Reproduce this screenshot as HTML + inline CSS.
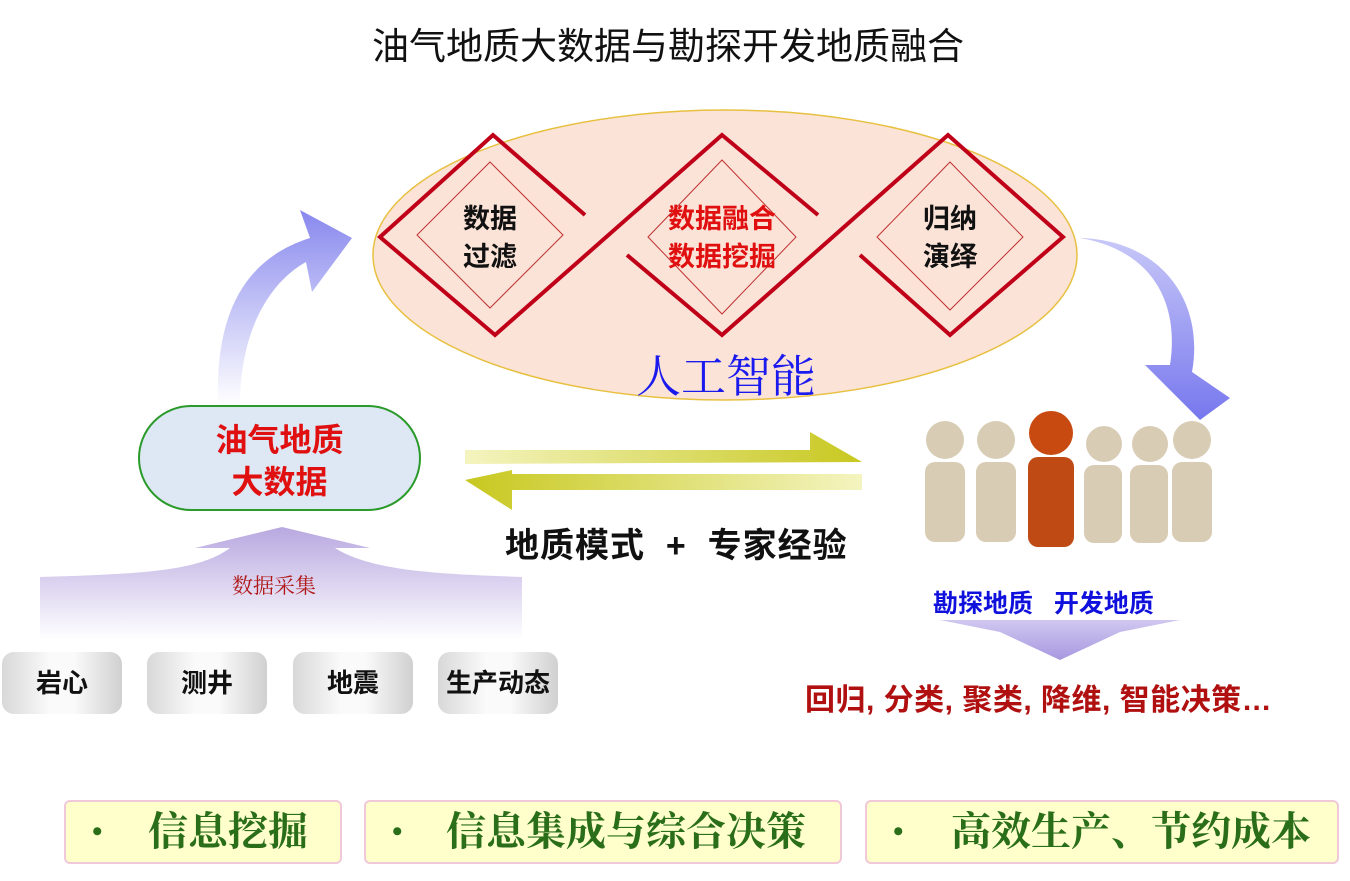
<!DOCTYPE html>
<html><head><meta charset="utf-8"><style>
body{margin:0;width:1350px;height:881px;background:#fff;overflow:hidden;position:relative;font-family:"Liberation Sans","Noto Sans CJK SC",sans-serif}
.a{position:absolute;white-space:nowrap}
.btn{position:absolute;top:652px;width:120px;height:62px;border-radius:12px;background:linear-gradient(90deg,#d8d8d8,#fafafa 40%,#fafafa 60%,#d0d0d0);font-size:26px;font-weight:bold;text-align:center;line-height:62px;color:#111}
.bx{position:absolute;top:800px;height:60px;background:#ffffcc;border:2px solid #f0c8d8;border-radius:6px;font-size:40px;font-weight:bold;color:#2a6e1a;line-height:60px;font-family:"Liberation Serif","Noto Serif CJK SC",serif;white-space:nowrap}
.bx b{position:absolute;left:26px;font-size:30px}
.bx span{position:absolute}
</style></head><body>
<div class="a" style="left:372px;top:16px;font-size:37px;color:#111">油气地质大数据与勘探开发地质融合</div>
<svg class="a" style="left:0;top:0" width="1350" height="881">
<defs>
<linearGradient id="g1" x1="0" y1="1" x2="0" y2="0"><stop offset="0" stop-color="#fff"/><stop offset="1" stop-color="#8888ee"/></linearGradient>
<linearGradient id="g2" x1="0" y1="0" x2="0" y2="1"><stop offset="0" stop-color="#c8c8f8"/><stop offset="1" stop-color="#7777ee"/></linearGradient>
<linearGradient id="g3" x1="0" y1="1" x2="0" y2="0"><stop offset="0" stop-color="#fff"/><stop offset="1" stop-color="#b8a8e0"/></linearGradient>
<linearGradient id="g4" x1="0" y1="0" x2="1" y2="0"><stop offset="0" stop-color="#f4f4c0"/><stop offset="1" stop-color="#c8c820"/></linearGradient>
<linearGradient id="g5" x1="1" y1="0" x2="0" y2="0"><stop offset="0" stop-color="#f4f4c0"/><stop offset="1" stop-color="#c8c820"/></linearGradient>
<linearGradient id="g6" x1="0" y1="0" x2="0" y2="1"><stop offset="0" stop-color="#d0c8f0"/><stop offset="1" stop-color="#a898e0"/></linearGradient>
</defs>
<ellipse cx="725" cy="255" rx="352" ry="145" fill="#fbe3d8" stroke="#e8c040" stroke-width="1.5"/>
<g fill="none" stroke="#c00018" stroke-width="4">
<polyline points="585,215 493,135 380,237 495,335 722,135 818,215"/>
<polyline points="627,255 722,335 948,135 1063,237 950,335 860,255"/>
</g>
<g fill="none" stroke="#c03030" stroke-width="1">
<polygon points="490,162 563,235 490,308 417,235"/>
<polygon points="722,160 796,237 722,314 648,237"/>
<polygon points="950,162 1023,237 950,310 877,237"/>
</g>
<path d="M218,405 C215,320 240,260 310,238 L300,210 L352,238 L312,292 L306,262 C270,282 240,330 240,405 Z" fill="url(#g1)"/>
<path d="M1080,238 C1150,250 1180,300 1170,365 L1145,365 L1200,420 L1230,398 L1192,372 C1205,300 1160,240 1080,238 Z" fill="url(#g2)"/>
<path d="M40,577 C150,574 200,570 230,548 L195,548 L282,527 L370,548 L335,548 C370,570 430,574 522,577 L522,640 L40,640 Z" fill="url(#g3)"/>
<path d="M465,450 L810,450 L810,432 L862,462 L465,464 Z" fill="url(#g4)"/>
<path d="M862,474 L512,474 L512,470 L465,480 L512,510 L512,490 L862,490 Z" fill="url(#g5)"/>
<path d="M940,620 L1180,620 L1120,632 L1060,660 L1000,632 Z" fill="url(#g6)"/>
<g fill="#d8ccb4">
<circle cx="945" cy="440" r="19"/><rect x="925" y="462" width="40" height="80" rx="10"/>
<circle cx="996" cy="440" r="19"/><rect x="976" y="462" width="40" height="80" rx="10"/>
<circle cx="1104" cy="444" r="18"/><rect x="1084" y="465" width="38" height="78" rx="10"/>
<circle cx="1150" cy="444" r="18"/><rect x="1130" y="465" width="38" height="78" rx="10"/>
<circle cx="1192" cy="440" r="19"/><rect x="1172" y="462" width="40" height="80" rx="10"/>
</g>
<circle cx="1051" cy="433" r="22" fill="#c84a10"/><rect x="1028" y="457" width="46" height="90" rx="10" fill="#c04a14"/>
</svg>
<div class="a" style="left:636px;top:340px;font-size:45px;color:#1a1aee;font-family:'Liberation Serif','Noto Serif CJK SC',serif">人工智能</div>
<div class="a" style="left:450px;top:200px;width:80px;text-align:center;font-size:27px;font-weight:bold;line-height:38px;color:#111">数据<br>过滤</div>
<div class="a" style="left:646px;top:200px;width:152px;text-align:center;font-size:27px;font-weight:bold;line-height:38px;color:#e01010">数据融合<br>数据挖掘</div>
<div class="a" style="left:910px;top:200px;width:80px;text-align:center;font-size:27px;font-weight:bold;line-height:38px;color:#111">归纳<br>演绎</div>
<div class="a" style="left:138px;top:405px;width:283px;height:106px;border:2px solid #2a9a2a;border-radius:54px;background:#dde8f4;text-align:center;font-size:32px;font-weight:bold;color:#e01010;line-height:42px;padding-top:12px;box-sizing:border-box">油气地质<br>大数据</div>
<div class="a" style="left:232px;top:570px;font-size:21px;color:#b01818;font-family:'Liberation Serif','Noto Serif CJK SC',serif">数据采集</div>
<div class="a" style="left:505px;top:518px;font-size:34px;font-weight:bold;color:#111;letter-spacing:1px">地质模式&nbsp;&nbsp;+&nbsp;&nbsp;专家经验</div>
<div class="a" style="left:933px;top:584px;font-size:25px;font-weight:bold;color:#1010dd">勘探地质&nbsp;&nbsp;&nbsp;开发地质</div>
<div class="a" style="left:805px;top:675px;font-size:30px;font-weight:bold;color:#b01010;letter-spacing:0.5px">回归, 分类, 聚类, 降维, 智能决策…</div>
<div class="btn" style="left:2px">岩心</div>
<div class="btn" style="left:147px">测井</div>
<div class="btn" style="left:293px">地震</div>
<div class="btn" style="left:438px">生产动态</div>
<div class="bx" style="left:64px;width:274px"><b>•</b><span style="left:82px">信息挖掘</span></div>
<div class="bx" style="left:364px;width:474px"><b>•</b><span style="left:80px">信息集成与综合决策</span></div>
<div class="bx" style="left:865px;width:470px"><b>•</b><span style="left:84px">高效生产、节约成本</span></div>
</body></html>
